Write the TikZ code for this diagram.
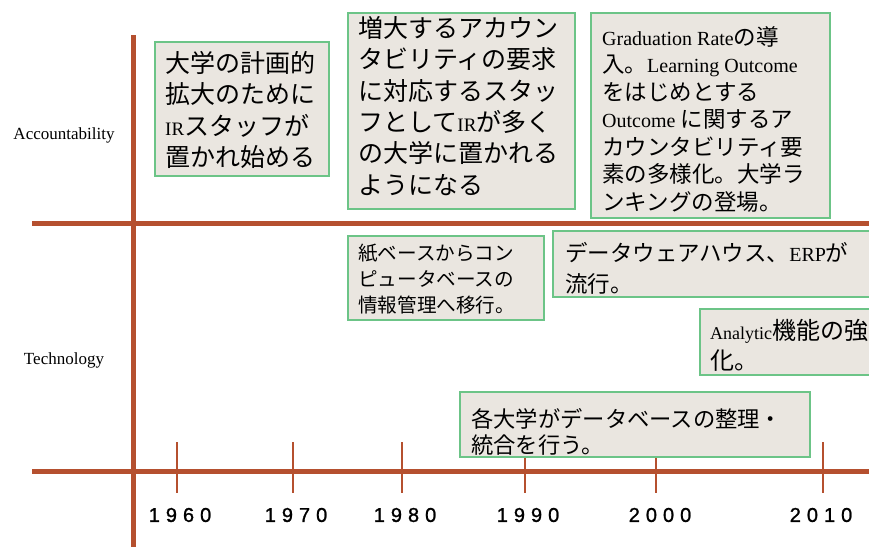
\documentclass[tikz,border=0pt]{standalone}
\usepackage{fontspec}
\setmainfont{Liberation Serif}
\newfontfamily\cjk{Noto Sans CJK JP}
\newfontfamily\yearfont[LetterSpace=30,FakeBold=1.2]{Liberation Sans}
\newcommand\lat[2]{{\rmfamily\fontsize{#1}{#1}\selectfont #2}}
\definecolor{axisc}{HTML}{B5502F}
\definecolor{boxfill}{HTML}{EAE6E0}
\definecolor{boxedge}{HTML}{6CC487}
\begin{document}
\begin{tikzpicture}[x=1pt,y=-1pt,
  axisline/.style={draw=axisc,line width=5pt},
  tickline/.style={draw=axisc,line width=1.1pt},
  box/.style={draw=boxedge,fill=boxfill,line width=1.4pt,inner sep=0pt},
  txt/.style={anchor=west,align=left,inner sep=0pt,font=\cjk},
  axlabel/.style={font=\fontsize{17}{17}\selectfont},
  year/.style={font=\yearfont\fontsize{20}{20}\selectfont}]
\useasboundingbox (0,0) rectangle (869,546);
% axes
\coordinate (vtop) at (133,35);
\coordinate (vbot) at (133,550);
\coordinate (h1l) at (32,223);
\coordinate (h1r) at (875,223);
\coordinate (h2l) at (32,471);
\coordinate (h2r) at (875,471);
\draw[axisline] (vtop) -- (vbot);
\draw[axisline] (h1l) -- (h1r);
\draw[axisline] (h2l) -- (h2r);
% ticks and years
\foreach \x/\lx/\yr in {177/179/1960,293/295/1970,402/404/1980,525/527/1990,656/659/2000,823/820/2010}{
  \coordinate (tt\yr) at (\x,442);
  \coordinate (tb\yr) at (\x,493);
  \draw[tickline] (tt\yr) -- (tb\yr);
  \node[year] (y\yr) at (\lx+1,515) {\yr};
}
% axis labels
\node[axlabel] (acc) at (64,135) {Accountability};
\node[axlabel] (tech) at (64,360) {Technology};
% boxes
\node[box,minimum width=174pt,minimum height=134pt] (b1) at (242,109) {};
\node[txt,font=\cjk\fontsize{25}{31.3}\selectfont] (t1) at (165,110)
  {大学の計画的\\拡大のために\\\lat{19}{IR}スタッフが\\置かれ始める};
\node[box,minimum width=227pt,minimum height=196pt] (b2) at (461.5,111) {};
\node[txt,font=\cjk\fontsize{25}{31.4}\selectfont] (t2) at (358,106)
  {増大するアカウン\\タビリティの要求\\に対応するスタッ\\フとして\lat{19}{IR}が多く\\の大学に置かれる\\ようになる};
\node[box,minimum width=239pt,minimum height=205pt] (b3) at (710.5,115.5) {};
\node[txt,font=\cjk\fontsize{22.5}{27.5}\selectfont] (t3) at (602,119)
  {\lat{20}{Graduation Rate}の導\\入。\lat{20}{Learning Outcome}\\をはじめとする\\\lat{20}{Outcome} に関するア\\カウンタビリティ要\\素の多様化。大学ラ\\ンキングの登場。};
\node[box,minimum width=196pt,minimum height=84pt] (b4) at (446,278) {};
\node[txt,font=\cjk\fontsize{19.6}{26}\selectfont] (t4) at (358,279)
  {紙ベースからコン\\ピュータベースの\\情報管理へ移行。};
\node[box,minimum width=332pt,minimum height=66pt] (b5) at (719,264) {};
\node[txt,font=\cjk\fontsize{22.5}{31}\selectfont] (t5) at (565,268)
  {データウェアハウス、\lat{20}{ERP}が\\流行。};
\node[box,minimum width=185pt,minimum height=66pt] (b6) at (792.5,342) {};
\node[txt,font=\cjk\fontsize{24}{30}\selectfont] (t6) at (710,345)
  {\lat{18}{Analytic}機能の強\\化。};
\node[box,minimum width=350pt,minimum height=65pt] (b7) at (635,424.5) {};
\node[txt,font=\cjk\fontsize{22.3}{26}\selectfont] (t7) at (471,432)
  {各大学がデータベースの整理・\\統合を行う。};
\end{tikzpicture}
\end{document}
